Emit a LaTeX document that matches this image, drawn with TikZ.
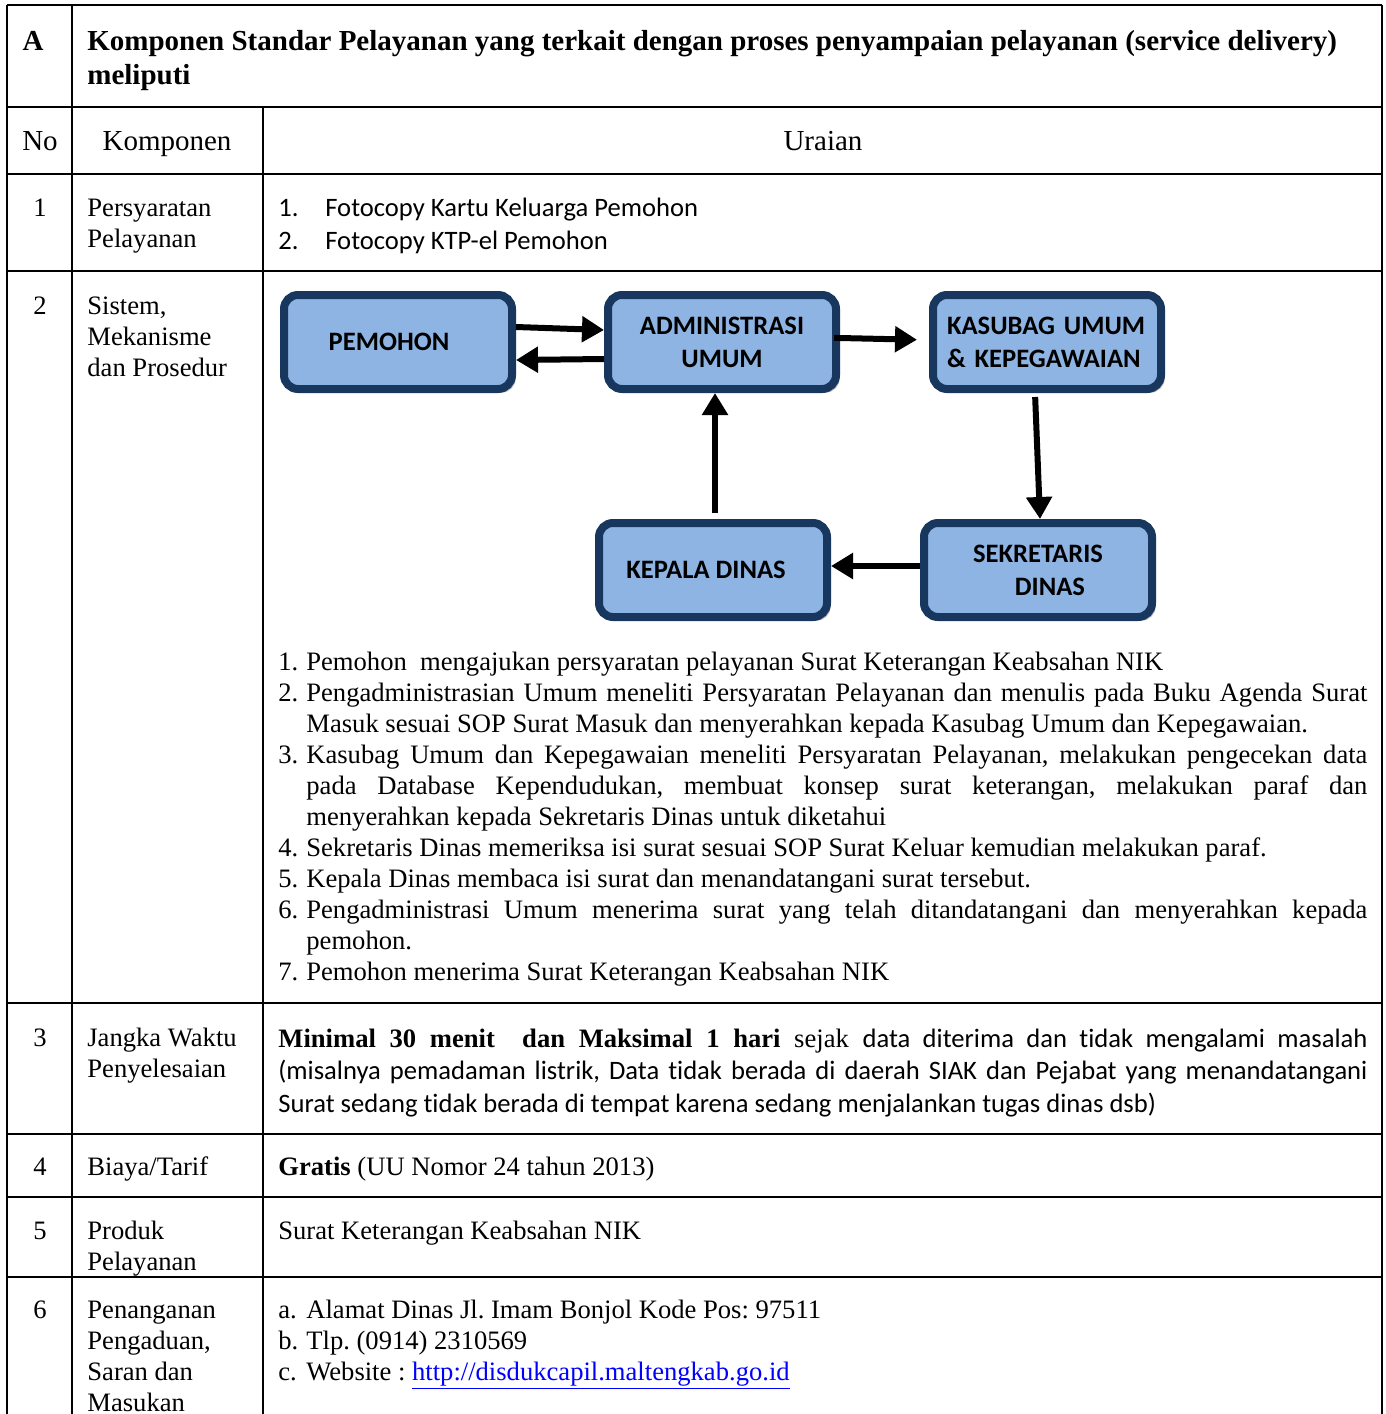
\documentclass[tikz,border=0pt]{standalone}
\usepackage{fontspec}
\setmainfont{Liberation Serif}
\newfontfamily\calibri[Ligatures=NoCommon]{Carlito}
\usetikzlibrary{arrows.meta,shadows}
\definecolor{boxfill}{HTML}{8EB4E3}
\definecolor{boxline}{HTML}{17375E}
\definecolor{linkblue}{HTML}{0000FF}
% one numbered line of a list, hanging indent
\newcommand{\stepitem}[2]{\noindent\hangindent=14pt\hangafter=1\makebox[14pt][l]{#1}#2\par}

\begin{document}
\frenchspacing
\begin{tikzpicture}[x=0.5pt, y=-0.5pt,
    rule/.style={line width=1.25pt},
    txt/.style={anchor=base west, inner sep=0pt, align=flush left,
      text width=85pt, font=\fontsize{13.3}{15.5}\selectfont},
    wide/.style={txt, text width=544.5pt},
    numtxt/.style={anchor=base, inner sep=0pt,
      font=\fontsize{13.3}{15.5}\selectfont},
    headtxt/.style={anchor=base, inner sep=0pt,
      font=\fontsize{14.5}{17}\selectfont},
    unit/.style={draw=boxline, line width=4pt, fill=boxfill,
      rounded corners=7pt, minimum width=114pt, minimum height=47pt,
      align=center, font=\calibri\bfseries\fontsize{13.3}{16.5}\selectfont,
      drop shadow={shadow xshift=1.8pt, shadow yshift=-1.8pt,
        fill=gray!70, opacity=0.8}},
    flow/.style={line width=3pt, -{Triangle[length=11pt,width=12.5pt]}}]
  \useasboundingbox (0,0) rectangle (1386,1414);

  % Table rules
  \foreach \yy in {5,107,174,271,1003,1134,1197,1277}
    \draw [rule] (7,\yy) -- (1382,\yy);
  \draw [rule] (7,5) -- (7,1414);
  \draw [rule] (72,5) -- (72,1414);
  \draw [rule] (263,107) -- (263,1414);
  \draw [rule] (1382,5) -- (1382,1414);

  % Section title
  \node [headtxt] (seca) at (33,50) {\bfseries A};
  \node [headtxt, anchor=base west, align=flush left, text width=647.5pt]
    (sectitle) at (87,50)
    {\bfseries Komponen Standar Pelayanan yang terkait dengan proses
      penyampaian pelayanan (service delivery)\\ meliputi};

  % Column heads
  \node [headtxt] (hno) at (40,150) {No};
  \node [headtxt] (hkomp) at (167,150) {Komponen};
  \node [headtxt] (huraian) at (823,150) {Uraian};

  % Row 1
  \node [numtxt] (n1) at (40,216) {1};
  \node [txt] (k1) at (87,216) {Persyaratan\\Pelayanan};
  \node [wide, font=\calibri\fontsize{13.3}{16.5}\selectfont] (u1) at (278,216)
    {\makebox[23.5pt][l]{1.}Fotocopy Kartu Keluarga Pemohon\\
     \makebox[23.5pt][l]{2.}Fotocopy KTP-el Pemohon};

  % Row 2
  \node [numtxt] (n2) at (40,314) {2};
  \node [txt] (k2) at (87,314) {Sistem,\\Mekanisme\\dan Prosedur};

  % Flow boxes
  \node [unit] (pemohon) at (398,342) {PEMOHON\hspace*{9pt}};
  \node [unit] (admin) at (722,342) {ADMINISTRASI\\UMUM};
  \node [unit, text width=100pt, align=left] (kasubag) at (1047,342)
    {KASUBAG UMUM\\\& KEPEGAWAIAN};
  \node [unit] (kepala) at (713,570) {KEPALA DINAS\hspace*{7pt}};
  \node [unit] (sekretaris) at (1038,570) {SEKRETARIS\\\hspace*{12pt}DINAS};

  % Flow arrows
  \draw [flow] ([yshift=7.5pt]pemohon.east) -- ([yshift=6pt]admin.west);
  \draw [flow] ([yshift=-8.5pt]admin.west) -- ([yshift=-9pt]pemohon.east);
  \draw [flow, shorten <=-3pt, shorten >=6pt]
        ([yshift=2pt]admin.east) -- ([yshift=1pt]kasubag.west);
  \draw [flow, shorten <=2pt] ([xshift=-6pt]kasubag.south)
        -- ([xshift=1pt]sekretaris.north);
  \draw [flow] ([yshift=2pt]sekretaris.west) -- ([yshift=2pt]kepala.east);
  \draw [flow, shorten <=3pt] ([xshift=1pt]kepala.north)
        -- ([xshift=-3.5pt]admin.south);

  % Steps
  \node [wide, align=justify] (steps) at (278,670)
    {\stepitem{1.}{Pemohon\ \ mengajukan persyaratan pelayanan Surat
       Keterangan Keabsahan NIK}
     \stepitem{2.}{Pengadministrasian Umum meneliti Persyaratan Pelayanan
       dan menulis pada Buku Agenda Surat\linebreak Masuk sesuai SOP Surat
       Masuk dan menyerahkan kepada Kasubag Umum dan Kepegawaian.}
     \stepitem{3.}{Kasubag Umum dan Kepegawaian meneliti Persyaratan
       Pelayanan, melakukan pengecekan data\linebreak pada Database
       Kependudukan, membuat konsep surat keterangan, melakukan paraf
       dan\linebreak menyerahkan kepada Sekretaris Dinas untuk diketahui}
     \stepitem{4.}{Sekretaris Dinas memeriksa isi surat sesuai SOP Surat
       Keluar kemudian melakukan paraf.}
     \stepitem{5.}{Kepala Dinas membaca isi surat dan menandatangani surat
       tersebut.}
     \stepitem{6.}{Pengadministrasi Umum menerima surat yang telah
       ditandatangani dan menyerahkan kepada\linebreak pemohon.}
     \stepitem{7.}{Pemohon menerima Surat Keterangan Keabsahan NIK}};

  % Row 3
  \node [numtxt] (n3) at (40,1046) {3};
  \node [txt] (k3) at (87,1046) {Jangka Waktu\\Penyelesaian};
  \node [wide, align=justify,
    font=\fontsize{13.3}{16.25}\selectfont] (u3) at (278,1047)
    {\textbf{Minimal 30 menit\ \ dan Maksimal 1 hari} sejak {\calibri data
      diterima dan tidak mengalami masalah\linebreak (misalnya pemadaman
      listrik, Data tidak berada di daerah SIAK dan Pejabat yang
      menandatangani\linebreak Surat sedang tidak berada di tempat karena
      sedang menjalankan tugas dinas dsb)}};

  % Row 4
  \node [numtxt] (n4) at (40,1175) {4};
  \node [txt] (k4) at (87,1175) {Biaya/Tarif};
  \node [wide] (u4) at (278,1175) {\textbf{Gratis} (UU Nomor 24 tahun 2013)};

  % Row 5
  \node [numtxt] (n5) at (40,1239) {5};
  \node [txt] (k5) at (87,1239) {Produk\\Pelayanan};
  \node [wide] (u5) at (278,1239) {Surat Keterangan Keabsahan NIK};

  % Row 6
  \node [numtxt] (n6) at (40,1318) {6};
  \node [txt] (k6) at (87,1318) {Penanganan\\Pengaduan,\\Saran dan\\Masukan};
  \node [wide] (u6) at (278,1318)
    {\makebox[14pt][l]{a.}Alamat Dinas Jl. Imam Bonjol Kode Pos: 97511\\
     \makebox[14pt][l]{b.}Tlp. (0914) 2310569\\
     \makebox[14pt][l]{c.}Website : \textcolor{linkblue}{\underline{http://disdukcapil.maltengkab.go.id}}};
\end{tikzpicture}
\end{document}
